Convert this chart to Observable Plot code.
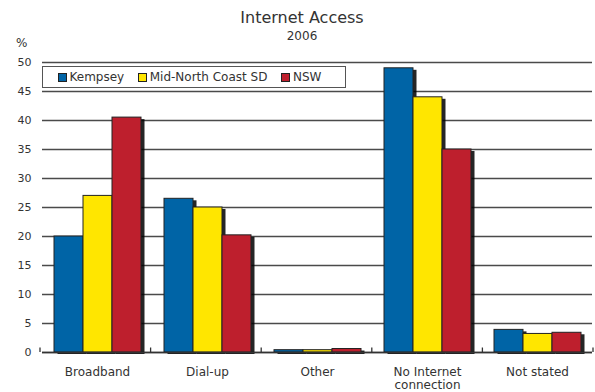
<!DOCTYPE html>
<html><head>
<meta charset="utf-8">
<script src="https://cdn.jsdelivr.net/npm/d3@7"></script>
<script src="https://cdn.jsdelivr.net/npm/@observablehq/plot@0.6"></script>
<style>
body{margin:0;background:#fff;font-family:"DejaVu Sans",sans-serif;color:#333;}
#wrap{position:relative;width:595px;height:392px;overflow:hidden;}
.t{position:absolute;white-space:nowrap;line-height:1;}
#title{top:9.5px;left:302px;transform:translateX(-50%);font-size:16px;}
#sub{top:30px;left:302px;transform:translateX(-50%);font-size:12px;}
#unit{top:37px;left:16px;font-size:12px;}
#legend{position:absolute;left:42px;top:66px;width:287px;height:20px;border:1px solid #555;background:#fff;display:flex;align-items:center;padding-left:15px;box-sizing:content-box;font-size:12px;}
#legend .item{display:flex;align-items:center;margin-right:14px;}
#legend .sw{width:7px;height:7px;border:1px solid #222;margin-right:2.5px;}
</style></head><body>
<div id="wrap">
  <div class="t" id="title">Internet Access</div>
  <div class="t" id="sub">2006</div>
  <div class="t" id="unit">%</div>
</div>
<script>
const categories = ["Broadband", "Dial-up", "Other", "No Internet connection", "Not stated"];
const series = ["Kempsey", "Mid-North Coast SD", "NSW"];
const kempsey = [20, 26.5, 0.4, 49, 3.9];
const midNorthCoast = [27, 25, 0.4, 44, 3.2];
const nsw = [40.5, 20.2, 0.6, 35, 3.4];
const colors = ["#0064a6", "#ffe600", "#be1f2d"];
const yTicks = d3.range(0, 51, 5);

const seriesValues = [kempsey, midNorthCoast, nsw];
const data = categories.flatMap((c, i) =>
  series.map((s, j) => ({category: c, series: s, value: seriesValues[j][i]})));

const chart = Plot.plot({
  width: 595, height: 392,
  marginLeft: 40, marginRight: 2, marginTop: 62, marginBottom: 40,
  style: {fontFamily: "DejaVu Sans", fontSize: "11px", color: "#333", background: "transparent", overflow: "visible"},
  fx: {domain: categories, paddingInner: 0, paddingOuter: 0, label: null},
  x: {domain: series, paddingInner: 0, paddingOuter: 0.375, axis: null},
  y: {domain: [0, 50], label: null},
  color: {domain: series, range: colors},
  marks: [
    Plot.gridY(yTicks, {stroke: "#4a4a4a", strokeOpacity: 1, strokeWidth: 1.3}),
    Plot.axisY(yTicks, {tickSize: 0, tickPadding: 11, fontSize: 11, label: null}),
    Plot.axisFx({anchor: "bottom", tickSize: 0, tickPadding: 15, fontSize: 12, lineHeight: 1.05, label: null,
      tickFormat: d => d.replace("Internet ", "Internet\n")}),
    Plot.barY(data, {fx: "category", x: "series", y: "value", fill: "#000", fillOpacity: 0.85, dx: 3.5, dy: 2, ariaLabel: "shadow"}),
    Plot.barY(data, {fx: "category", x: "series", y: "value", fill: "series", stroke: "#222", strokeWidth: 1}),
    Plot.ruleY([0], {stroke: "#333", strokeWidth: 1.5})
  ]
});

// soft drop shadow via an SVG blur filter
const svg = d3.select(chart);
svg.insert("defs", ":first-child").append("filter")
  .attr("id", "shadowBlur").attr("x", "-50%").attr("y", "-10%").attr("width", "200%").attr("height", "120%")
  .append("feGaussianBlur").attr("stdDeviation", 1.8);
chart.querySelectorAll('g[aria-label="shadow"]').forEach(g => g.setAttribute("filter", "url(#shadowBlur)"));

// category boundary ticks on the baseline, from the fx and y scales
const fxs = chart.scale("fx"), ys = chart.scale("y");
const band = d3.scaleBand().domain(fxs.domain).range(fxs.range).paddingInner(0).paddingOuter(0);
const yLin = d3.scaleLinear(ys.domain, ys.range);
const edges = categories.map(c => band(c)).concat([band(categories[categories.length - 1]) + band.bandwidth()]);
svg.append("g").selectAll("line").data(edges).join("line")
  .attr("x1", d => d).attr("x2", d => d)
  .attr("y1", yLin(0) - 4.5).attr("y2", yLin(0))
  .attr("stroke", "#333").attr("stroke-width", 1.3);

const wrap = document.getElementById("wrap");
chart.style.position = "absolute";
chart.style.left = "0"; chart.style.top = "0";
wrap.insertBefore(chart, wrap.firstChild);

const legend = document.createElement("div");
legend.id = "legend";
series.forEach((s, i) => {
  const it = document.createElement("div");
  it.className = "item";
  const sw = document.createElement("div");
  sw.className = "sw"; sw.style.background = colors[i];
  const tx = document.createElement("span");
  tx.textContent = s;
  it.appendChild(sw); it.appendChild(tx);
  legend.appendChild(it);
});
wrap.appendChild(legend);
</script>
</body></html>
